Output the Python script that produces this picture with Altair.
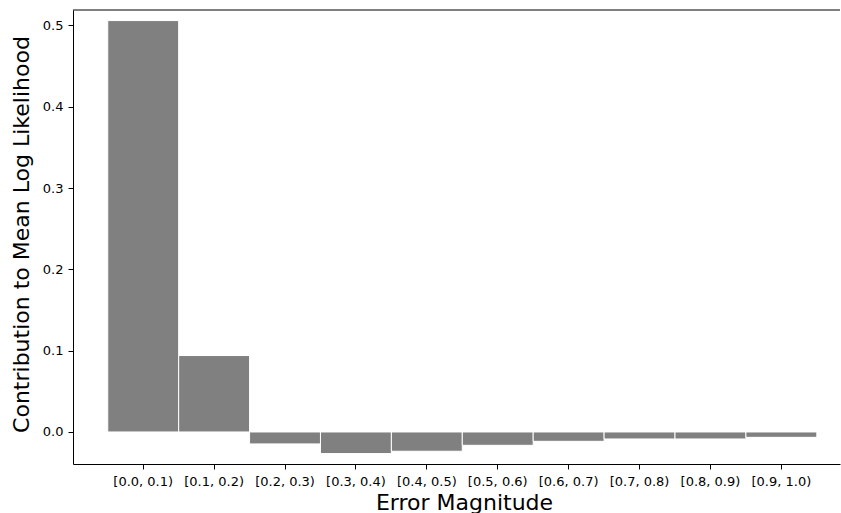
import altair as alt
import pandas as pd

# Data
bins = ["[0.0, 0.1)", "[0.1, 0.2)", "[0.2, 0.3)", "[0.3, 0.4)", "[0.4, 0.5)",
        "[0.5, 0.6)", "[0.6, 0.7)", "[0.7, 0.8)", "[0.8, 0.9)", "[0.9, 1.0)"]
contrib = [0.506, 0.094, -0.0147, -0.0266, -0.0237, -0.0164, -0.0115, -0.0086, -0.0086, -0.0066]

df = pd.DataFrame({"bin": bins, "value": contrib})

W, H = 767, 454
FONT = "DejaVu Sans"

bars = alt.Chart(df).mark_bar(color="#808080", stroke="white", strokeWidth=1).encode(
    x=alt.X("bin:N", sort=bins,
            scale=alt.Scale(paddingInner=0, paddingOuter=0.4085, align=0.6),
            axis=alt.Axis(title="Error Magnitude", labelAngle=0, labelFontSize=13,
                          labelColor="black", labelFont=FONT, labelPadding=6,
                          tickSize=5, tickColor="black", domainColor="black",
                          titleFontSize=22, titleFont=FONT, titleFontWeight="normal",
                          titleColor="black", titleBaseline="alphabetic",
                          titleX=391, titleY=45)),
    y=alt.Y("value:Q",
            scale=alt.Scale(domain=[-0.0394, 0.519], nice=False, zero=False),
            axis=alt.Axis(title="Contribution to Mean Log Likelihood",
                          values=[0.0, 0.1, 0.2, 0.3, 0.4, 0.5], format=".1f",
                          labelFontSize=13, labelColor="black", labelFont=FONT,
                          labelPadding=5, tickSize=5, tickColor="black",
                          domainColor="black", grid=False,
                          titleFontSize=22, titleFont=FONT, titleFontWeight="normal",
                          titleColor="black", titleBaseline="alphabetic",
                          titleX=-44.5, titleY=224)),
)

top_spine = alt.Chart(pd.DataFrame({"a": [0]})).mark_rule(color="black", strokeWidth=1).encode(
    x=alt.value(0), x2=alt.value(W), y=alt.value(0)
)

chart = alt.layer(bars, top_spine).properties(
    width=W, height=H,
    autosize=alt.AutoSizeParams(type="none"),
    padding={"left": 73, "top": 10, "right": 1, "bottom": 49},
).configure_view(stroke=None).configure_axisX(grid=False)

chart.save("out.html", embed_options={"renderer": "svg", "actions": False})
